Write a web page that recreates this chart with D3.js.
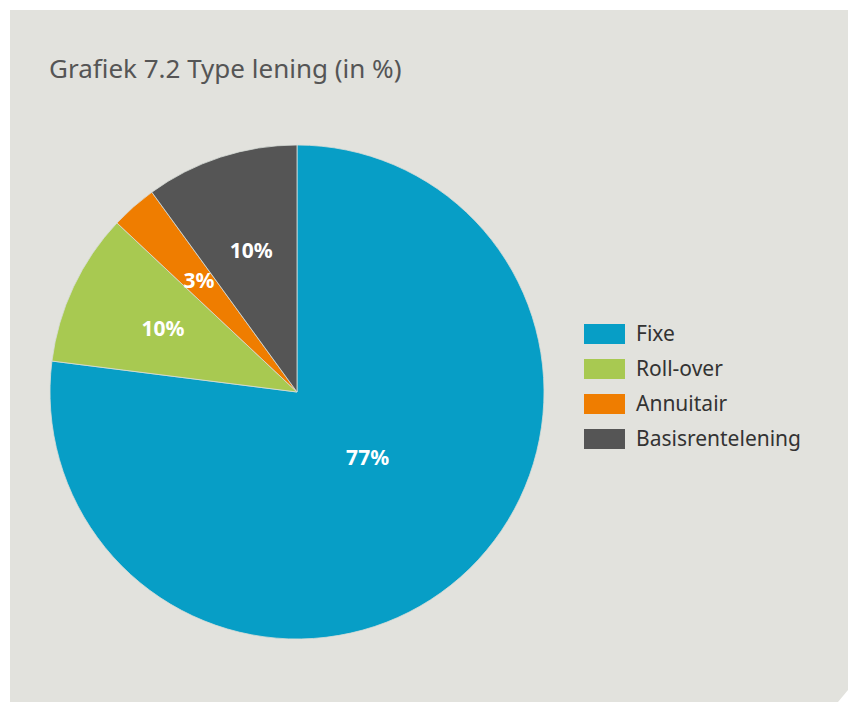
<!DOCTYPE html>
<html>
<head>
<meta charset="utf-8">
<script src="https://cdn.jsdelivr.net/npm/d3@7"></script>
<style>
  body { margin: 0; background: #fff; }
  text { font-family: "Noto Sans", "Open Sans", sans-serif; }
</style>
</head>
<body>
<svg id="chart" width="848" height="702"></svg>
<script>
// data
let categories = ["Fixe", "Roll-over", "Annuitair", "Basisrentelening"];
let values = [77, 10, 3, 10];
let colors = ["#079ec6", "#a8c951", "#ef7d00", "#555555"];
let title = "Grafiek 7.2 Type lening (in %)";

let svg = d3.select("#chart");

// panel with cut corner bottom right
svg
  .append("path")
  .attr("d", "M10,10 L848,10 L848,690 L838,702 L10,702 Z")
  .attr("fill", "#e2e2dd");

svg
  .append("text")
  .attr("x", 49)
  .attr("y", 78)
  .attr("font-size", "26px")
  .attr("fill", "#555")
  .text(title);

let cx = 297,
  cy = 392,
  radius = 247;

let pie = d3.pie().sort(null).value((d) => d);
let arcs = pie(values);
let arc = d3.arc().innerRadius(0).outerRadius(radius);

let g = svg.append("g").attr("transform", "translate(" + cx + "," + cy + ")");

g.selectAll("path.slice")
  .data(arcs)
  .enter()
  .append("path")
  .attr("class", "slice")
  .attr("d", arc)
  .attr("fill", (d, i) => colors[i])
  .attr("stroke", "#d8ddd8")
  .attr("stroke-width", 0.8);

// labels: big slice closer to the centre
g.selectAll("text.lbl")
  .data(arcs)
  .enter()
  .append("text")
  .attr("class", "lbl")
  .attr("transform", function (d) {
    let big = d.endAngle - d.startAngle > Math.PI;
    let r = big ? radius * 0.39 : radius * 0.6;
    let a = (d.startAngle + d.endAngle) / 2 - (big ? 0.1 : 0);
    return "translate(" + Math.sin(a) * r + "," + -Math.cos(a) * r + ")";
  })
  .attr("text-anchor", "middle")
  .attr("dy", "0.35em")
  .attr("font-size", "21px")
  .attr("font-weight", "bold")
  .attr("fill", "#fff")
  .text((d) => d.data + "%");

// legend
let legend = svg
  .append("g")
  .attr("transform", "translate(584,324)");

let rows = legend
  .selectAll("g")
  .data(categories)
  .enter()
  .append("g")
  .attr("transform", (d, i) => "translate(0," + i * 35 + ")");

rows
  .append("rect")
  .attr("width", 41)
  .attr("height", 20)
  .attr("fill", (d, i) => colors[i]);

rows
  .append("text")
  .attr("x", 52)
  .attr("y", 10)
  .attr("dy", "0.35em")
  .attr("font-size", "21px")
  .attr("fill", "#333")
  .text((d) => d);
</script>
</body>
</html>
